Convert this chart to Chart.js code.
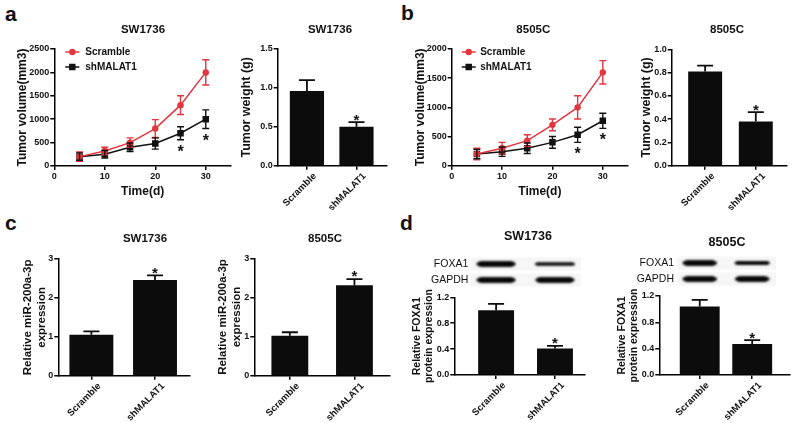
<!DOCTYPE html>
<html><head><meta charset="utf-8">
<script src="https://cdn.jsdelivr.net/npm/chart.js@4/dist/chart.umd.min.js"></script>
<style>
html,body{margin:0;padding:0;background:#fff;width:800px;height:423px;overflow:hidden;position:relative;font-family:"Liberation Sans",Arial,sans-serif}
canvas{position:absolute}
.lt{position:absolute;font-weight:bold;font-size:21px;line-height:1;color:#111}
</style></head><body>
<div class="lt" style="left:5px;top:3px">a</div>
<div class="lt" style="left:401px;top:2px">b</div>
<div class="lt" style="left:5px;top:212px">c</div>
<div class="lt" style="left:400px;top:212px">d</div>
<canvas id="c1"></canvas><canvas id="c2"></canvas><canvas id="c3"></canvas><canvas id="c4"></canvas>
<canvas id="c5"></canvas><canvas id="c6"></canvas><canvas id="c7"></canvas><canvas id="c8"></canvas>
<script>
// ---------------- data ----------------
const days = [5, 10, 15, 20, 25, 30];
const groups = ['Scramble', 'shMALAT1'];

// a: SW1736 tumor volume (mm3)
const swVolScramble    = [200, 320, 500, 800, 1300, 2000];
const swVolScrambleErr = [100,  80, 100, 190,  200,  270];
const swVolShMALAT1    = [200, 250, 400, 480,  700, 1000];
const swVolShMALAT1Err = [ 80,  80,  90, 120,  140,  200];
const swVolSig         = [0, 0, 0, 0, 1, 1];
// a: SW1736 tumor weight (g)
const swWeight    = [0.96, 0.50];
const swWeightErr = [0.14, 0.06];
const swWeightSig = [0, 1];

// b: 8505C tumor volume (mm3)
const c8VolScramble    = [200, 300, 430, 700, 1000, 1600];
const c8VolScrambleErr = [100, 100, 100, 100,  200,  200];
const c8VolShMALAT1    = [200, 240, 300, 400,  530,  770];
const c8VolShMALAT1Err = [ 80,  80,  90, 100,  130,  130];
const c8VolSig         = [0, 0, 0, 0, 1, 1];
// b: 8505C tumor weight (g)
const c8Weight    = [0.81, 0.38];
const c8WeightErr = [0.05, 0.08];
const c8WeightSig = [0, 1];

// c: relative miR-200a-3p expression
const swMiR    = [1.05, 2.46];
const swMiRErr = [0.09, 0.12];
const c8MiR    = [1.02, 2.31];
const c8MiRErr = [0.09, 0.16];
const miRSig   = [0, 1];

// d: relative FOXA1 protein expression
const swFOXA1    = [1.00, 0.41];
const swFOXA1Err = [0.10, 0.04];
const c8FOXA1    = [1.04, 0.47];
const c8FOXA1Err = [0.10, 0.06];
const foxSig     = [0, 1];

// d: western blot band intensities (relative)
const blotRowNames = ['FOXA1', 'GAPDH'];
const swBlotFOXA1 = [1.0, 0.6];
const swBlotGAPDH = [1.0, 1.0];
const c8BlotFOXA1 = [1.0, 0.65];
const c8BlotGAPDH = [1.0, 1.0];

// ---------------- style ----------------
const FONT = '"Liberation Sans", Arial, sans-serif';
const INK = '#111111';
const RED = '#e2363e';
const BAR = '#0c0c0c';

// ---------------- plugins ----------------
const ptitlePlugin = {
  id: 'ptitle',
  afterDraw(chart, args, o) {
    if (!o || !o.text) return;
    const ctx = chart.ctx;
    ctx.save();
    ctx.font = `bold ${o.size}px ${FONT}`;
    ctx.fillStyle = INK; ctx.textAlign = 'center'; ctx.textBaseline = 'middle';
    ctx.fillText(o.text, o.x, o.y);
    ctx.restore();
  }
};

const errPlugin = {
  id: 'errbars',
  afterDatasetsDraw(chart, args, o) {
    const ctx = chart.ctx, ys = chart.scales.y;
    chart.data.datasets.forEach((ds, di) => {
      if (!ds.err) return;
      const meta = chart.getDatasetMeta(di);
      ctx.save();
      ctx.strokeStyle = ds.errColor;
      ctx.lineWidth = o.lw;
      meta.data.forEach((el, i) => {
        const v = ds.data[i].y, e = ds.err[i], x = el.x;
        const yt = ys.getPixelForValue(v + e);
        const yb = o.upOnly ? ys.getPixelForValue(v) : ys.getPixelForValue(v - e);
        ctx.beginPath();
        ctx.moveTo(x, yt); ctx.lineTo(x, yb);
        ctx.moveTo(x - o.cap, yt); ctx.lineTo(x + o.cap, yt);
        if (!o.upOnly) { ctx.moveTo(x - o.cap, yb); ctx.lineTo(x + o.cap, yb); }
        ctx.stroke();
        if (ds.sig && ds.sig[i]) {
          ctx.fillStyle = INK;
          ctx.font = `bold ${o.starSize}px ${FONT}`;
          ctx.textAlign = 'center'; ctx.textBaseline = 'alphabetic';
          const cy = o.upOnly ? yt - o.starGap : yb + o.starGap;
          ctx.fillText('*', x, cy + 0.56 * o.starSize);
        }
      });
      ctx.restore();
    });
  }
};

const legendPlugin = {
  id: 'inlegend',
  afterDraw(chart, args, o) {
    if (!o || !o.show) return;
    const ctx = chart.ctx, {left, top} = chart.chartArea;
    chart.data.datasets.forEach((ds, i) => {
      const y = top + o.y + i * o.dy, x0 = left + o.x;
      ctx.save();
      ctx.strokeStyle = ds.borderColor; ctx.lineWidth = 1.5;
      ctx.beginPath(); ctx.moveTo(x0, y); ctx.lineTo(x0 + o.len, y); ctx.stroke();
      ctx.fillStyle = ds.borderColor;
      const cx = x0 + o.len / 2;
      if (ds.pointStyle === 'rect') {
        const s = ds.pointRadius * Math.SQRT1_2;
        ctx.fillRect(cx - s, y - s, 2 * s, 2 * s);
      } else {
        ctx.beginPath(); ctx.arc(cx, y, ds.pointRadius, 0, Math.PI * 2); ctx.fill();
      }
      ctx.fillStyle = INK;
      ctx.font = `bold ${o.size}px ${FONT}`;
      ctx.textAlign = 'left'; ctx.textBaseline = 'middle';
      ctx.fillText(ds.label, x0 + o.textX, y);
      ctx.restore();
    });
  }
};

function makeBlot(rows, opt) {
  return {
    id: 'blot',
    afterDraw(chart) {
      const ctx = chart.ctx, xs = chart.scales.x, {top, left} = chart.chartArea;
      const p0 = xs.getPixelForValue(0), p1 = xs.getPixelForValue(1);
      const bw = (p1 - p0) * opt.bandFrac;
      const sx0 = p0 - bw / 2 - 4, sx1 = p1 + bw / 2 + 5;
      rows.forEach((row, r) => {
        const y = top + opt.y0 + r * opt.dy;
        ctx.save();
        ctx.fillStyle = '#f6f6f6';
        ctx.fillRect(sx0, y - opt.stripH / 2, sx1 - sx0, opt.stripH);
        ctx.fillStyle = INK;
        ctx.font = `${opt.fontSize}px ${FONT}`;
        ctx.textAlign = 'right'; ctx.textBaseline = 'middle';
        ctx.fillText(row.name, left + opt.labelX, y);
        ctx.filter = 'blur(0.9px)';
        ctx.fillStyle = '#080808';
        row.level.forEach((lv, j) => {
          const cx = xs.getPixelForValue(j);
          const th = opt.thick * lv, rr = th / 2;
          const xa = cx - bw / 2, xb = cx + bw / 2;
          ctx.beginPath();
          ctx.moveTo(xa + rr * 2, y - rr);
          ctx.lineTo(xb - rr * 2, y - rr);
          ctx.quadraticCurveTo(xb + rr, y, xb - rr * 2, y + rr);
          ctx.lineTo(xa + rr * 2, y + rr);
          ctx.quadraticCurveTo(xa - rr, y, xa + rr * 2, y - rr);
          ctx.fill();
        });
        ctx.restore();
      });
    }
  };
}

// ---------------- helpers ----------------
const tickFont = {family: FONT, size: 9, weight: 'bold'};
function axisStyle() {
  return {
    grid: {display: true, drawOnChartArea: false, drawTicks: true, tickLength: 4, color: '#000', lineWidth: 1.5, offset: false},
    border: {display: true, color: '#000', width: 1.5}
  };
}

function build(id, box, area, cfg, t) {
  const cv = document.getElementById(id);
  cv.width = box.w; cv.height = box.h;
  cv.style.left = box.l + 'px'; cv.style.top = box.t + 'px';
  const o = cfg.options;
  o.responsive = false; o.animation = false; o.devicePixelRatio = 1;
  o.layout = {padding: {left: 0, top: area.y0 - box.t, right: box.l + box.w - area.x1, bottom: 0}};
  o.scales.y.afterFit = s => { s.width = area.x0 - box.l; };
  o.scales.x.afterFit = s => { s.height = box.t + box.h - area.y1; };
  const yt = o.scales.y.title, ylh = yt.font.size * 1.2;
  yt.padding = {top: t.yTitleX - box.l - ylh / 2, bottom: 0};
  if (t.xTitleY) {
    const xt = o.scales.x.title, xlh = xt.font.size * 1.2;
    xt.padding = {top: 0, bottom: box.t + box.h - t.xTitleY - xlh / 2};
  }
  o.plugins = Object.assign({legend: {display: false}, tooltip: {enabled: false}}, o.plugins || {});
  o.plugins.ptitle = {text: t.title, x: t.tx - box.l, y: t.ty - box.t, size: t.tsize};
  cfg.plugins = [ptitlePlugin, errPlugin, legendPlugin].concat(cfg.plugins || []);
  return new Chart(cv, cfg);
}

function lineCfg(scr, scrErr, sh, shErr, sig, yMax, yStep, legend) {
  const ax = axisStyle();
  return {
    type: 'line',
    data: {datasets: [
      {label: groups[0], data: days.map((d, i) => ({x: d, y: scr[i]})), borderColor: RED, backgroundColor: RED,
       pointStyle: 'circle', pointRadius: 3.2, pointBorderWidth: 0, borderWidth: 1.5, tension: 0, err: scrErr, errColor: RED},
      {label: groups[1], data: days.map((d, i) => ({x: d, y: sh[i]})), borderColor: INK, backgroundColor: INK,
       pointStyle: 'rect', pointRadius: 4.6, pointBorderWidth: 0, borderWidth: 1.5, tension: 0, err: shErr, errColor: INK, sig: sig}
    ]},
    options: {
      plugins: {errbars: {lw: 1.4, cap: 3.5, upOnly: false, starSize: 16, starGap: 8}, inlegend: legend},
      scales: {
        x: {type: 'linear', min: 0, max: 35,
            ticks: {stepSize: 10, includeBounds: false, font: tickFont, color: INK, padding: 1, callback: v => String(v)},
            title: {display: true, text: 'Time(d)', font: {family: FONT, size: 12, weight: 'bold'}, color: INK},
            ...ax},
        y: {min: 0, max: yMax,
            ticks: {stepSize: yStep, font: tickFont, color: INK, padding: 1, callback: v => String(v)},
            title: {display: true, text: 'Tumor volume(mm3)', font: {family: FONT, size: 12, weight: 'bold'}, color: INK},
            ...ax}
      }
    }
  };
}

function barCfg(vals, errs, sig, yMax, yStep, yFmt, xMin, xMax, barPct, yTitle, yTitleSize) {
  const ax = axisStyle();
  return {
    type: 'bar',
    data: {datasets: [{data: vals.map((v, i) => ({x: i, y: v})), backgroundColor: BAR, borderWidth: 0,
      barPercentage: barPct, categoryPercentage: 1, err: errs, errColor: BAR, sig: sig}]},
    options: {
      plugins: {errbars: {lw: 1.8, cap: 8, upOnly: true, starSize: 15, starGap: 6}},
      scales: {
        x: {type: 'linear', min: xMin, max: xMax, offset: false,
            ticks: {stepSize: 1, includeBounds: false, autoSkip: false, minRotation: 45, maxRotation: 45,
                    font: {family: FONT, size: 9.5, weight: 'bold'}, color: INK, padding: 1, labelOffset: 8,
                    callback: v => (groups[v] !== undefined ? groups[v] : '')},
            ...ax},
        y: {min: 0, max: yMax,
            ticks: {stepSize: yStep, font: tickFont, color: INK, padding: 1, callback: yFmt},
            title: {display: true, text: yTitle, font: {family: FONT, size: yTitleSize, weight: 'bold'}, color: INK},
            ...ax}
      }
    }
  };
}

const fmt1 = v => Number(v).toFixed(1);
const fmt0 = v => String(v);

// a: line
build('c1', {l: 0, t: 20, w: 236, h: 185}, {x0: 54.3, y0: 49, x1: 231, y1: 166},
  lineCfg(swVolScramble, swVolScrambleErr, swVolShMALAT1, swVolShMALAT1Err, swVolSig, 2500, 500,
          {show: true, x: 11, y: 3, dy: 15, len: 14, textX: 20, size: 10}),
  {title: 'SW1736', tx: 143, ty: 30, tsize: 11.5, yTitleX: 23, xTitleY: 192});
// a: bar
build('c2', {l: 234, t: 20, w: 160, h: 190}, {x0: 277.7, y0: 49, x1: 386.7, y1: 165.7},
  barCfg(swWeight, swWeightErr, swWeightSig, 1.5, 0.5, fmt1, -0.59, 1.61, 0.69, 'Tumor weight (g)', 12.5),
  {title: 'SW1736', tx: 330, ty: 30, tsize: 11.5, yTitleX: 246.7});
// b: line
build('c3', {l: 400, t: 20, w: 234, h: 185}, {x0: 451.7, y0: 49, x1: 628, y1: 165.7},
  lineCfg(c8VolScramble, c8VolScrambleErr, c8VolShMALAT1, c8VolShMALAT1Err, c8VolSig, 2000, 500,
          {show: true, x: 10, y: 3, dy: 15, len: 14, textX: 18.5, size: 10}),
  {title: '8505C', tx: 533.3, ty: 30, tsize: 11.5, yTitleX: 420.7, xTitleY: 191.7});
// b: bar
build('c4', {l: 634, t: 20, w: 160, h: 190}, {x0: 671.7, y0: 49.3, x1: 786.7, y1: 165.7},
  barCfg(c8Weight, c8WeightErr, c8WeightSig, 1.0, 0.2, fmt1, -0.66, 1.61, 0.67, 'Tumor weight (g)', 12.5),
  {title: '8505C', tx: 727, ty: 30, tsize: 11.5, yTitleX: 646.7});
// c
build('c5', {l: 0, t: 222, w: 196, h: 200}, {x0: 58.3, y0: 259, x1: 190, y1: 375.7},
  barCfg(swMiR, swMiRErr, miRSig, 3, 1, fmt0, -0.52, 1.55, 0.69, ['Relative miR-200a-3p', 'expression'], 11.5),
  {title: 'SW1736', tx: 145, ty: 239, tsize: 11.5, yTitleX: 28});
build('c6', {l: 196, t: 222, w: 200, h: 200}, {x0: 254.3, y0: 258.3, x1: 390, y1: 375.7},
  barCfg(c8MiR, c8MiRErr, miRSig, 3, 1, fmt0, -0.55, 1.55, 0.57, ['Relative miR-200a-3p', 'expression'], 11.5),
  {title: '8505C', tx: 325, ty: 239, tsize: 11.5, yTitleX: 223});
// d
const blotOpt = {y0: -33.3, dy: 16, stripH: 13, fontSize: 10.5, labelX: 14, bandFrac: 0.72, thick: 6};
const cfg7 = barCfg(swFOXA1, swFOXA1Err, foxSig, 1.2, 0.4, fmt1, -0.71, 1.51, 0.61, ['Relative FOXA1', 'protein expression'], 10.5);
cfg7.plugins = [makeBlot([{name: blotRowNames[0], level: swBlotFOXA1}, {name: blotRowNames[1], level: swBlotGAPDH}], blotOpt)];
build('c7', {l: 402, t: 222, w: 190, h: 200}, {x0: 454.3, y0: 297.3, x1: 585, y1: 375},
  cfg7, {title: 'SW1736', tx: 528, ty: 237, tsize: 12.5, yTitleX: 416.7});
const cfg8 = barCfg(c8FOXA1, c8FOXA1Err, foxSig, 1.2, 0.4, fmt1, -0.77, 1.72, 0.76, ['Relative FOXA1', 'protein expression'], 10.5);
cfg8.plugins = [makeBlot([{name: blotRowNames[0], level: c8BlotFOXA1}, {name: blotRowNames[1], level: c8BlotGAPDH}],
  Object.assign({}, blotOpt, {y0: -33, labelX: 14.7}))];
build('c8', {l: 604, t: 222, w: 194, h: 200}, {x0: 659.3, y0: 296, x1: 790, y1: 375},
  cfg8, {title: '8505C', tx: 727, ty: 243, tsize: 12.5, yTitleX: 621.7});
</script>
</body></html>
